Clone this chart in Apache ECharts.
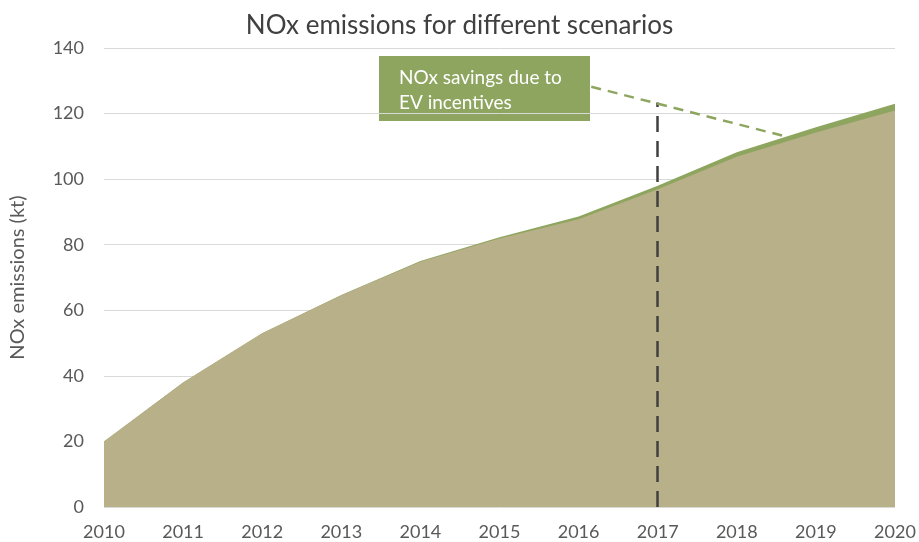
<!doctype html>
<html>
<head>
    <meta charset="utf-8">
    <title>NOx emissions</title>
    <script src="https://cdn.jsdelivr.net/npm/echarts@6/dist/echarts.min.js"></script>
</head>
<body style="margin:0">
<div id="main" style="width:919px;height:542px;"></div>
<script>
    // years and the two scenarios (kt)
    var years = [2010, 2011, 2012, 2013, 2014, 2015, 2016, 2017, 2018, 2019, 2020];
    var baseline = [20, 38, 53, 64.7, 75, 82.3, 88.6, 98, 108.2, 115.8, 123];
    var withEV = [20, 38, 53, 64.6, 74.8, 81.9, 87.8, 96.9, 106.8, 114.2, 120.9];
    var yTicks = [0, 20, 40, 60, 80, 100, 120, 140];

    var font = 'Lato, "Open Sans", sans-serif';

    echarts.init(document.getElementById('main')).setOption({
        animation: false,
        title: {
            text: 'NOx emissions for different scenarios',
            left: 'center',
            top: 8,
            textStyle: { fontFamily: font, fontSize: 26, fontWeight: 'normal', color: '#404040' }
        },
        grid: { left: 100, right: 24, top: 48, bottom: 35 },
        xAxis: {
            type: 'value',
            min: 2010,
            max: 2020,
            interval: 1,
            axisLine: { show: false },
            axisTick: { show: false },
            splitLine: { show: false },
            axisLabel: {
                formatter: function (v) { return String(v); },
                color: '#595959', fontFamily: font, fontSize: 18, margin: 16
            }
        },
        yAxis: {
            type: 'value',
            min: yTicks[0],
            max: yTicks[yTicks.length - 1],
            interval: 20,
            name: 'NOx emissions (kt)',
            nameLocation: 'middle',
            nameGap: 76,
            nameTextStyle: { color: '#595959', fontFamily: font, fontSize: 20 },
            axisLine: { show: false },
            axisTick: { show: false },
            splitLine: { lineStyle: { color: '#d9d9d9', width: 1 } },
            axisLabel: { color: '#595959', fontFamily: font, fontSize: 18, margin: 20 }
        },
        series: [{
            // baseline drawn first, the EV scenario covers it, leaving the savings band
            name: 'Baseline',
            type: 'line',
            symbol: 'none',
            lineStyle: { width: 0 },
            areaStyle: { color: '#8ea55f', opacity: 1 },
            data: years.map(function (y, i) { return [y, baseline[i]]; })
        },
            {
                name: 'EV scenario',
                type: 'line',
                symbol: 'none',
                lineStyle: { width: 0 },
                areaStyle: { color: '#b8b088', opacity: 1 },
                data: years.map(function (y, i) { return [y, withEV[i]]; }),
                markLine: {
                    silent: true,
                    symbol: 'none',
                    label: { show: false },
                    data: [
                        [{ coord: [2017, 0], lineStyle: { color: '#404040', width: 2.5, type: [16, 9] } },
                            { coord: [2017, 123.4] }],
                        [{ coord: [2016.16, 128.2], lineStyle: { color: '#8ea55f', width: 2.5, type: [10, 7] } },
                            { coord: [2018.62, 113] }]
                    ]
                }
            }
        ],
        graphic: [{
            type: 'group',
            left: 379,
            top: 56,
            children: [{
                type: 'rect',
                shape: { width: 211, height: 65 },
                style: { fill: '#8ea55f' }
            }, {
                type: 'text',
                x: 20,
                y: 9,
                style: {
                    text: 'NOx savings due to\nEV incentives',
                    fill: '#ffffff', font: '19px ' + font, lineHeight: 25
                }
            }]
        }, {
            type: 'group',
            left: 709,
            top: 392,
            children: [{
                type: 'rect',
                shape: { width: 154, height: 66 },
                style: { fill: 'none', stroke: '#595959', lineWidth: 2 }
            }, {
                type: 'text',
                x: 20,
                y: 9,
                style: {
                    text: 'Baseline NOx\nemissions',
                    fill: '#1a1a1a', font: '19px ' + font, lineHeight: 25
                }
            }]
        }]
    });
</script>
</body>
</html>
